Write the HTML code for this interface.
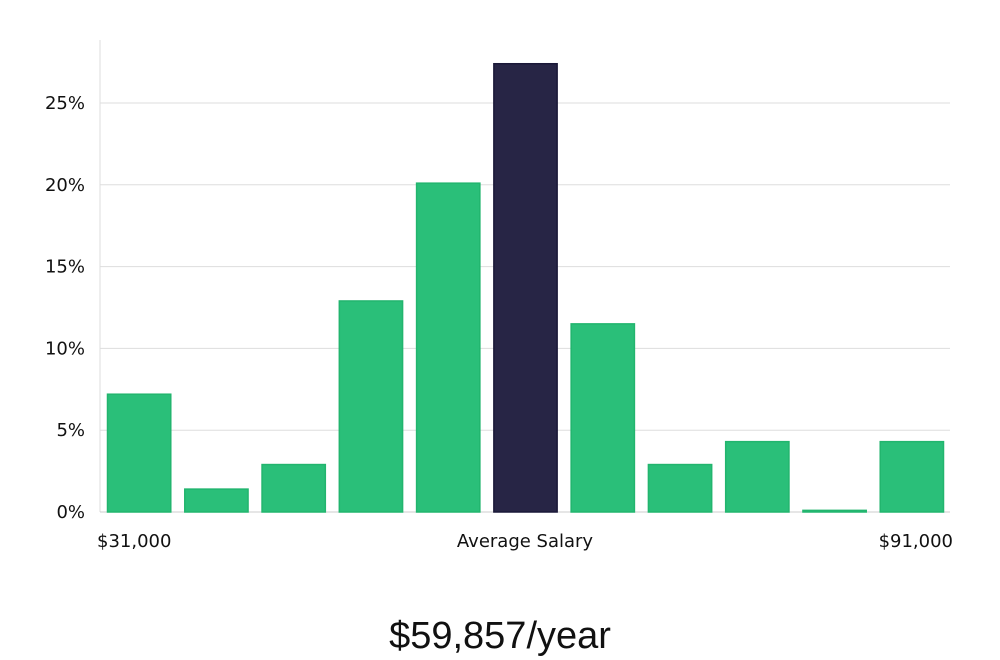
<!DOCTYPE html>
<html><head><meta charset="utf-8"><style>
html,body{margin:0;padding:0;background:#fff;width:1000px;height:660px;overflow:hidden}
svg{display:block}
text{font-family:"DejaVu Sans","Liberation Sans",sans-serif;fill:#111}
</style></head><body>
<svg id="chart" width="1000" height="660" viewBox="0 0 1000 660" xmlns="http://www.w3.org/2000/svg">
<g id="grid"></g>
<g id="bars"></g>
<g id="yticks"></g>
<text x="97" y="547" font-size="18">$31,000</text>
<text x="525" y="547" font-size="18" text-anchor="middle">Average Salary</text>
<text x="953" y="547" font-size="18" text-anchor="end">$91,000</text>
<text x="500" y="648" font-size="38" text-anchor="middle" style="font-family:'Liberation Sans',sans-serif;font-weight:300" fill="#111">$59,857/year</text>
</svg>
<script>
const values = [7.2, 1.4, 2.9, 12.9, 20.1, 27.4, 11.5, 2.9, 4.3, 0.1, 4.3];
const highlight = [false, false, false, false, false, true, false, false, false, false, false];
const yTicks = [0, 5, 10, 15, 20, 25];
const yTickLabels = ["0%", "5%", "10%", "15%", "20%", "25%"];
const NS = "http://www.w3.org/2000/svg";
const x0 = 100, x1 = 950, y0 = 512, pxPerUnit = (512 - 103) / 25;
const yScale = v => y0 - v * pxPerUnit;
const slot = (x1 - x0) / values.length;
const grid = document.getElementById('grid');
const yt = document.getElementById('yticks');
const axis = document.createElementNS(NS, 'line');


axis.setAttribute('x1', x0); axis.setAttribute('x2', x0);
axis.setAttribute('y1', 40); axis.setAttribute('y2', y0);
axis.setAttribute('stroke', '#ddd');
grid.appendChild(axis);
yTicks.forEach((t, i) => {
  const l = document.createElementNS(NS, 'line');
  
  
  l.setAttribute('x1', x0); l.setAttribute('x2', x1);
  l.setAttribute('y1', yScale(t)); l.setAttribute('y2', yScale(t));
  l.setAttribute('stroke', t === 0 ? '#ccc' : '#ddd');
  grid.appendChild(l);
  const tx = document.createElementNS(NS, 'text');
  
  
  tx.setAttribute('x', 85); tx.setAttribute('y', yScale(t) + 6);
  tx.setAttribute('text-anchor', 'end');
  tx.setAttribute('font-size', '18');
  tx.textContent = yTickLabels[i];
  yt.appendChild(tx);
});
const bars = document.getElementById('bars');
values.forEach((v, i) => {
  const r = document.createElementNS(NS, 'rect');
  
  
  const top = yScale(v);
  r.setAttribute('x', x0 + i * slot + 7.5);
  r.setAttribute('width', slot - 14);
  r.setAttribute('y', top);
  r.setAttribute('height', Math.max(1, y0 - top));
  r.setAttribute('fill', highlight[i] ? '#272545' : '#2abf79');
  r.setAttribute('stroke', highlight[i] ? '#1a1838' : '#22b56e');
  r.setAttribute('stroke-width', '1.5');
  bars.appendChild(r);
});
</script>
</body></html>
